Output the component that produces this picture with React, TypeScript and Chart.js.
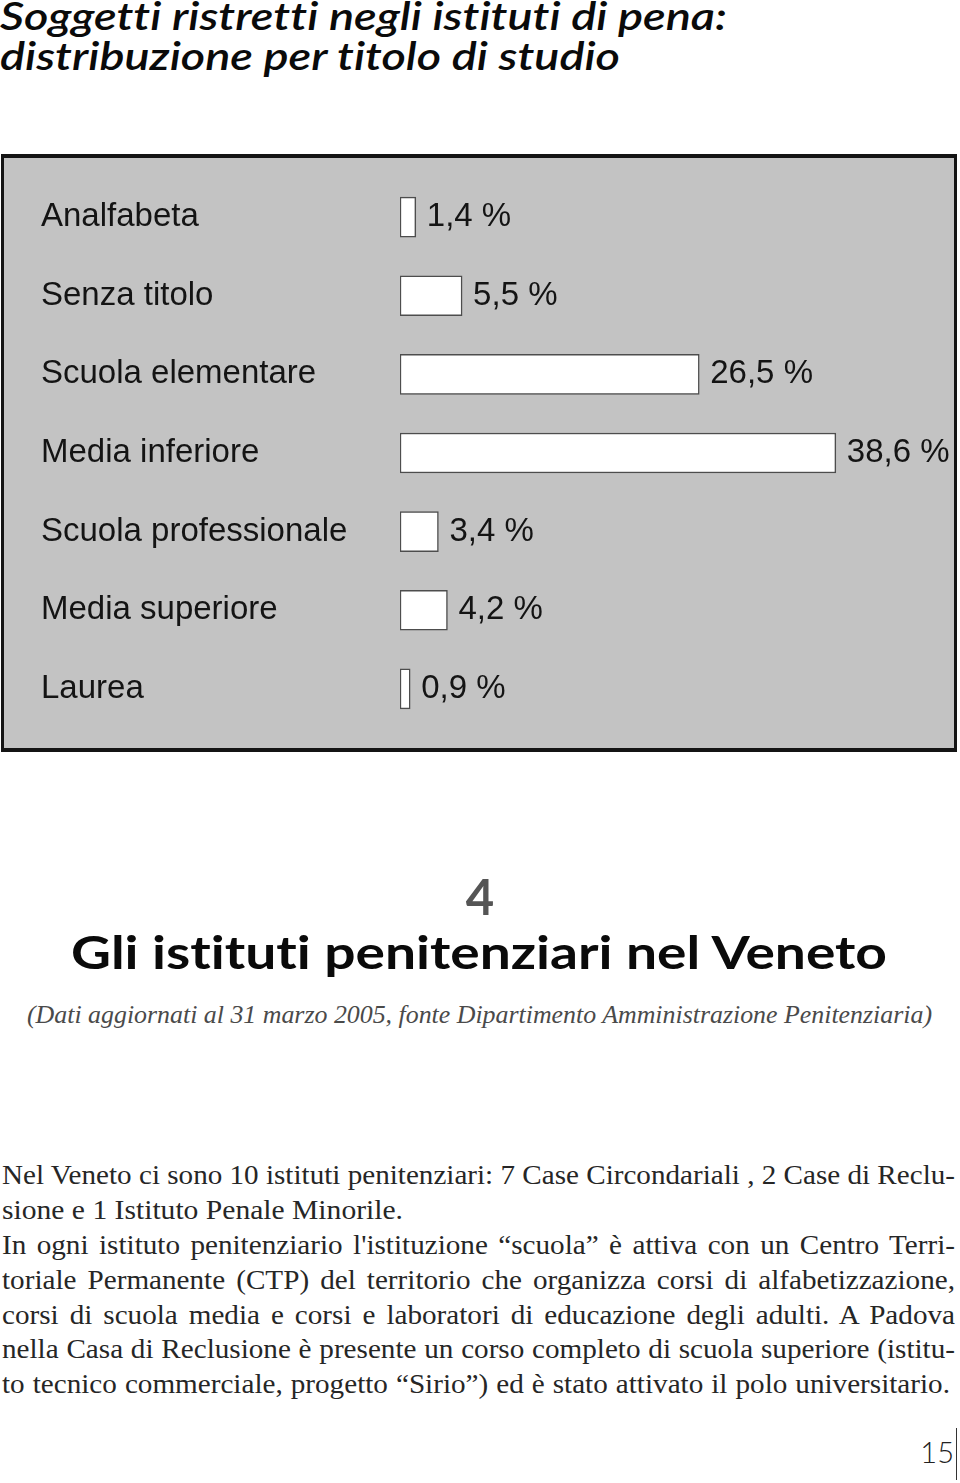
import React, { useEffect, useLayoutEffect, useRef } from "react";
import { Chart, registerables } from "chart.js";

Chart.register(...registerables);

const categories = [
  "Analfabeta",
  "Senza titolo",
  "Scuola elementare",
  "Media inferiore",
  "Scuola professionale",
  "Media superiore",
  "Laurea",
];
const percentages = [1.4, 5.5, 26.5, 38.6, 3.4, 4.2, 0.9];

const titleLines = [
  "Soggetti ristretti negli istituti di pena:",
  "distribuzione per titolo di studio",
];
const bodyLines = [
  "Nel Veneto ci sono 10 istituti penitenziari: 7 Case Circondariali , 2 Case di Reclu-",
  "sione e 1 Istituto Penale Minorile.",
  "In ogni istituto penitenziario l'istituzione \u201cscuola\u201d \u00e8 attiva con un Centro Terri-",
  "toriale Permanente (CTP) del territorio che organizza corsi di alfabetizzazione,",
  "corsi di scuola media e corsi e laboratori di educazione degli adulti. A Padova",
  "nella Casa di Reclusione \u00e8 presente un corso completo di scuola superiore (istitu-",
  "to tecnico commerciale, progetto \u201cSirio\u201d) ed \u00e8 stato attivato il polo universitario.",
];

const fmt = (v: number) => v.toFixed(1).replace(".", ",") + " %";

type FitProps = {
  text: string;
  left: number;
  top: number;
  width: number;
  fontSize: number;
  justify?: boolean;
  baseScale?: number;
  style?: React.CSSProperties;
};

function FitLine({ text, left, top, width, fontSize, justify, baseScale = 1, style }: FitProps) {
  const ref = useRef<HTMLSpanElement>(null);
  useLayoutEffect(() => {
    const fit = () => {
      const el = ref.current;
      if (!el) return;
      el.style.wordSpacing = "0px";
      el.style.transform = "none";
      const natural = el.getBoundingClientRect().width;
      if (natural <= 0) return;
      const spaces = (text.match(/ /g) || []).length;
      if (justify && natural * baseScale < width && spaces > 0) {
        el.style.wordSpacing = (width / baseScale - natural) / spaces + "px";
        el.style.transform = `scaleX(${baseScale})`;
      } else {
        el.style.transform = `scaleX(${width / natural})`;
      }
    };
    fit();
    const fonts = (document as any).fonts;
    if (fonts && fonts.ready) fonts.ready.then(fit);
  }, [text, width, justify, baseScale]);
  return (
    <span
      ref={ref}
      style={{
        position: "absolute",
        left,
        top,
        whiteSpace: "pre",
        fontSize,
        lineHeight: fontSize + "px",
        transformOrigin: "0 0",
        fontVariantLigatures: "none",
        fontFeatureSettings: '"liga" 0, "clig" 0, "dlig" 0',
        ...style,
      }}
    >
      {text}
    </span>
  );
}

const valueLabels = {
  id: "valueLabels",
  afterDatasetsDraw(chart: any) {
    const ctx = chart.ctx;
    const meta = chart.getDatasetMeta(0);
    const data = chart.data.datasets[0].data as number[];
    ctx.save();
    ctx.font = '33px "Liberation Sans", Arial, sans-serif';
    ctx.fillStyle = "#141414";
    ctx.textBaseline = "middle";
    ctx.textAlign = "left";
    meta.data.forEach((bar: any, i: number) => {
      ctx.fillText(fmt(data[i]), bar.x + 11, bar.y);
    });
    ctx.restore();
  },
};

function BarChart() {
  const canvasRef = useRef<HTMLCanvasElement>(null);
  useEffect(() => {
    if (!canvasRef.current) return;
    const chart = new Chart(canvasRef.current, {
      type: "bar",
      data: {
        labels: categories,
        datasets: [
          {
            data: percentages,
            backgroundColor: "#ffffff",
            borderColor: "#4d4d4d",
            borderWidth: 1.5,
            borderSkipped: false,
            barThickness: 40,
          } as any,
        ],
      },
      options: {
        indexAxis: "y",
        responsive: false,
        animation: false,
        layout: { padding: { left: 37, right: 12, top: 19, bottom: 16 } },
        plugins: {
          legend: { display: false },
          tooltip: { enabled: false },
        },
        scales: {
          x: { display: false, min: 0, max: 48 },
          y: {
            grid: { display: false },
            border: { display: false },
            ticks: {
              crossAlign: "far",
              color: "#141414",
              padding: 0,
              font: { family: '"Liberation Sans", Arial, sans-serif', size: 33 },
            },
            afterFit: (s: any) => {
              s.width = 359;
            },
          },
        },
      } as any,
      plugins: [valueLabels],
    });
    return () => chart.destroy();
  }, []);
  return <canvas ref={canvasRef} width={950} height={590} style={{ display: "block", width: 950, height: 590 }} />;
}

export default function App() {
  useEffect(() => {
    document.body.style.margin = "0";
    document.body.style.background = "#ffffff";
  }, []);

  const titleStyle: React.CSSProperties = {
    fontFamily: "Lato, sans-serif",
    fontStyle: "italic",
    fontWeight: 600,
    color: "#0a0a0a",
  };
  const serif: React.CSSProperties = {
    fontFamily: '"Liberation Serif", serif',
    color: "#262626",
  };

  const titleFs = 39;
  const bodyFs = 27;
  const bodyTops = bodyLines.map((_, i) => 1185 + i * 34.8 - bodyFs * 0.8375);

  return (
    <div style={{ position: "relative", width: 960, height: 1483, overflow: "hidden", background: "#fff" }}>
      <FitLine text={titleLines[0]} left={0} top={31 - titleFs * 0.887} width={727} fontSize={titleFs} style={titleStyle} />
      <FitLine text={titleLines[1]} left={0} top={71 - titleFs * 0.887} width={620} fontSize={titleFs} style={titleStyle} />

      <div
        style={{
          position: "absolute",
          left: 1,
          top: 154,
          width: 956,
          height: 598,
          boxSizing: "border-box",
          borderStyle: "solid",
          borderColor: "#141414",
          borderWidth: "4px 3px 4px 3px",
          background: "#c3c3c3",
        }}
      >
        <BarChart />
      </div>

      <div
        style={{
          position: "absolute",
          left: 0,
          width: 960,
          top: 915 - 49 * 0.887,
          textAlign: "center",
          fontFamily: "Lato, sans-serif",
          fontWeight: 700,
          fontSize: 49,
          lineHeight: "49px",
          color: "#555555",
        }}
      >
        4
      </div>

      <FitLine
        text="Gli istituti penitenziari nel Veneto"
        left={71}
        top={970 - 46 * 0.887}
        width={816}
        fontSize={46}
        style={{ fontFamily: "Lato, sans-serif", fontWeight: 700, color: "#0a0a0a" }}
      />

      <FitLine
        text="(Dati aggiornati al 31 marzo 2005, fonte Dipartimento Amministrazione Penitenziaria)"
        left={27}
        top={1023 - 25 * 0.8375}
        width={905}
        fontSize={25}
        style={{ fontFamily: '"Liberation Serif", serif', fontStyle: "italic", color: "#4a4a4a" }}
      />

      {bodyLines.map((line, i) => (
        <FitLine
          key={i}
          text={line}
          left={2}
          top={bodyTops[i]}
          width={i === 1 ? 401 : i === 6 ? 948 : 953}
          fontSize={bodyFs}
          justify={i !== 1}
          baseScale={1.08}
          style={serif}
        />
      ))}

      <div
        style={{
          position: "absolute",
          left: 900,
          width: 54,
          top: 1463 - 29 * 0.887,
          textAlign: "right",
          fontFamily: "Lato, sans-serif",
          fontWeight: 300,
          fontSize: 29,
          lineHeight: "29px",
          color: "#222",
        }}
      >
        15
      </div>
      <div style={{ position: "absolute", left: 956, top: 1428, width: 1, height: 52, background: "#333" }} />
    </div>
  );
}
